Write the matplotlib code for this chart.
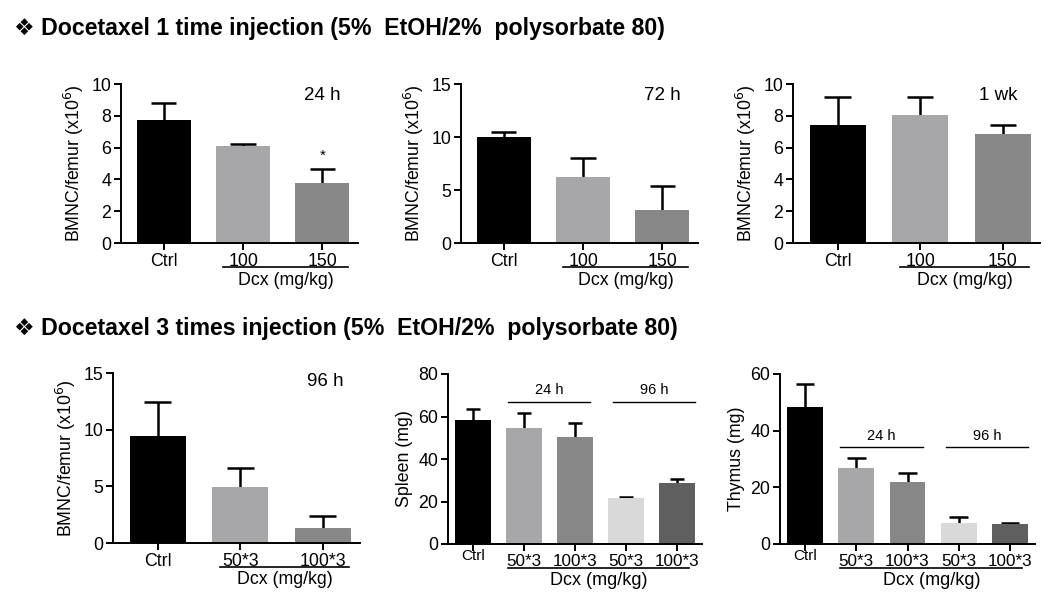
import matplotlib
matplotlib.use("Agg")
import matplotlib.pyplot as plt
import numpy as np

plt.rcParams['font.family'] = ['Liberation Sans', 'DejaVu Sans']

# ---- data ----
cats_single = ["Ctrl", "100", "150"]
p1_vals = [7.75, 6.1, 3.8]
p1_err = [1.05, 0.1, 0.85]
p2_vals = [10.0, 6.2, 3.1]
p2_err = [0.5, 1.8, 2.3]
p3_vals = [7.45, 8.05, 6.85]
p3_err = [1.75, 1.15, 0.55]

cats_multi3 = ["Ctrl", "50*3", "100*3"]
p4_vals = [9.4, 4.9, 1.35]
p4_err = [3.0, 1.7, 1.05]

cats_multi5 = ["Ctrl", "50*3", "100*3", "50*3", "100*3"]
spleen_vals = [58.5, 54.8, 50.2, 21.5, 28.8]
spleen_err = [5.0, 6.7, 6.8, 0.5, 1.7]
thymus_vals = [48.2, 27.0, 22.0, 7.5, 7.0]
thymus_err = [8.3, 3.5, 3.0, 2.0, 0.5]

col3 = ["#000000", "#a7a7a9", "#878787"]
col5 = ["#000000", "#a7a7a9", "#878787", "#d9d9d9", "#5f5f5f"]

W, H = 1044, 598
fig = plt.figure(figsize=(W / 100, H / 100), dpi=100)

def add_ax(x0, x1, ytop, ybot):
    return fig.add_axes([x0 / W, 1 - ybot / H, (x1 - x0) / W, (ybot - ytop) / H])

def style(ax, ymax, step, ylabel):
    for s in ["top", "right"]:
        ax.spines[s].set_visible(False)
    for s in ["left", "bottom"]:
        ax.spines[s].set_linewidth(1.4)
    ax.set_ylim(0, ymax)
    ax.set_yticks(np.arange(0, ymax + 0.001, step))
    ax.tick_params(axis='both', direction='out', width=1.4, length=5, labelsize=12.8, pad=2)
    ax.set_ylabel(ylabel, fontsize=12.8)

def bars(ax, vals, errs, cols, width, cap):
    x = np.arange(len(vals))
    ax.bar(x, vals, width=width, color=cols, zorder=2)
    tops = np.array(vals) + np.array(errs)
    ax.vlines(x, vals, tops, color='black', lw=1.8, zorder=1)
    ax.hlines(tops, x - cap / 2, x + cap / 2, color='black', lw=1.8, zorder=1)
    return x

ylab = "BMNC/femur (x10$^6$)"

def dcx(ax, x0, x1, yline, ytext, size=12.8):
    tr = ax.get_xaxis_transform()
    ax.plot([x0, x1], [yline, yline], color='black', lw=1.2, transform=tr, clip_on=False)
    ax.text((x0 + x1) / 2, ytext, "Dcx (mg/kg)", transform=tr, ha='center', va='center', fontsize=size)

# ---- top row ----
tops = [(121, 358, p1_vals, p1_err, 10, 2, "24 h", 0.85),
        (461, 698, p2_vals, p2_err, 15, 5, "72 h", 0.85),
        (793, 1040, p3_vals, p3_err, 10, 2, "1 wk", 0.83)]
axes_top = []
for x0, x1, v, e, ymax, step, lab, lx in tops:
    ax = add_ax(x0, x1, 84, 243)
    x = bars(ax, v, e, col3, 0.68, 0.32)
    style(ax, ymax, step, ylab)
    ax.set_xlim(-0.54, 2.45)
    ax.set_xticks(x)
    ax.set_xticklabels(cats_single)
    ax.text(lx, 0.93, lab, transform=ax.transAxes, ha='center', va='center', fontsize=13.5)
    dcx(ax, 0.75, 2.32, -0.15, -0.235)
    axes_top.append(ax)

axes_top[0].text(2, 5.5, "*", ha='center', va='center', fontsize=11)

# ---- bottom row ----
ax4 = add_ax(113, 360, 373, 543)
x = bars(ax4, p4_vals, p4_err, col3, 0.68, 0.33)
style(ax4, 15, 5, ylab)
ax4.set_xlim(-0.54, 2.45)
ax4.set_xticks(x)
ax4.set_xticklabels(cats_multi3)
ax4.text(0.86, 0.95, "96 h", transform=ax4.transAxes, ha='center', va='center', fontsize=13.5)
dcx(ax4, 0.75, 2.32, -0.14, -0.215)

def organ(x0, x1, vals, errs, ymax, step, ylabel, yline, cap):
    ax = add_ax(x0, x1, 374, 544)
    x = bars(ax, vals, errs, col5, 0.7, cap)
    style(ax, ymax, step, ylabel)
    ax.set_xlim(-0.49, 4.49)
    ax.set_xticks(x)
    ax.set_xticklabels(cats_multi5, fontsize=12.3)
    ax.get_xticklabels()[0].set_fontsize(11)
    ax.get_xticklabels()[0].set_y(0.03)
    for a, b, t in [(0.68, 2.3, "24 h"), (2.75, 4.35, "96 h")]:
        ax.plot([a, b], [yline, yline], color='black', lw=1.0)
        ax.text((a + b) / 2, yline + ymax * 0.025, t, ha='center', va='bottom', fontsize=10.5)
    dcx(ax, 0.69, 4.24, -0.14, -0.215, size=13)
    return ax

organ(448, 702, spleen_vals, spleen_err, 80, 20, "Spleen (mg)", 67, 0.28)
organ(780, 1035, thymus_vals, thymus_err, 60, 20, "Thymus (mg)", 34.2, 0.36)

# ---- headings ----
fig.text(14 / W, 1 - 28 / H, "\u2756 Docetaxel 1 time injection (5%  EtOH/2%  polysorbate 80)",
         fontsize=16.7, fontweight='bold', va='center', ha='left')
fig.text(14 / W, 1 - 328 / H, "\u2756 Docetaxel 3 times injection (5%  EtOH/2%  polysorbate 80)",
         fontsize=16.7, fontweight='bold', va='center', ha='left')

fig.savefig("out.png", dpi=100)
